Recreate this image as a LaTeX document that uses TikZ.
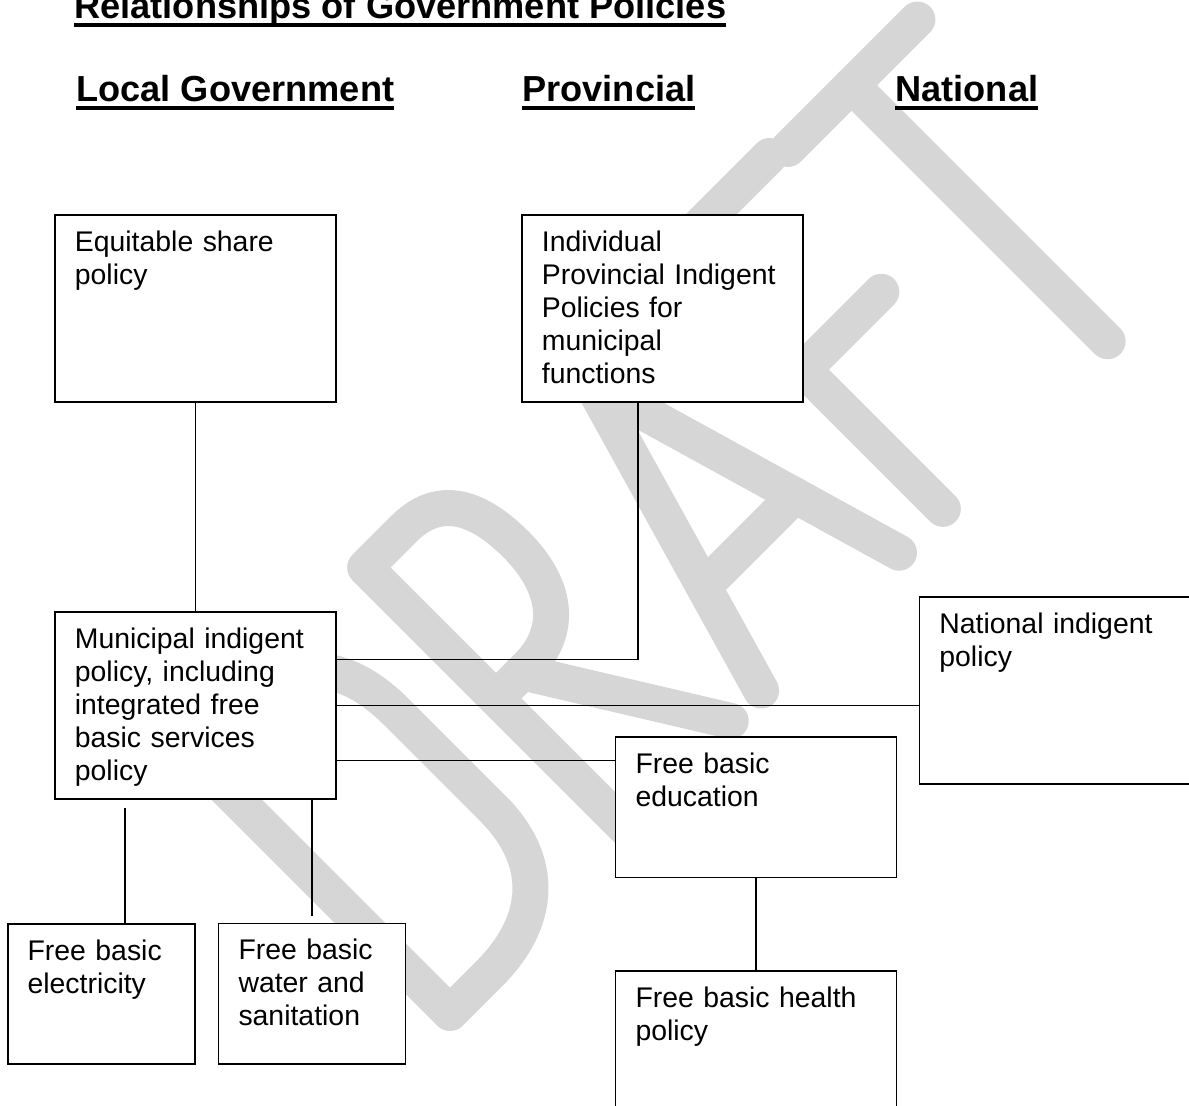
\documentclass[tikz,border=0pt]{standalone}
\usepackage{fontspec}
\setmainfont{Liberation Sans}
\usepackage{tikz}
\usetikzlibrary{calc}
\definecolor{wmgray}{RGB}{214,214,214}
\newcommand{\ulhead}[1]{\setbox0\hbox{#1}\rlap{\rule[-4.2pt]{\wd0}{2pt}}\box0}

\begin{document}
\begin{tikzpicture}[x=0.5pt, y=-0.5pt,
  pbox/.style={rectangle, draw=black, fill=white, line width=0.9pt,
               anchor=north west, align=left, inner xsep=10pt, inner ysep=0pt,
               text height=18.25pt, font=\fontsize{14.2}{16.5}\selectfont},
  head/.style={anchor=base west, inner sep=0pt,
               font=\fontsize{18.1}{21}\selectfont\bfseries},
  conn/.style={draw=black, line width=0.8pt},
  wmark/.style={draw=wmgray, line width=18pt, line cap=round, line join=round}
]
\useasboundingbox (0,0) rectangle (1189,1106);
\clip (0,0) rectangle (1189,1106);

% Watermark
\begin{scope}[shift={(450,1013)}, x={(0.35355pt,0.35355pt)}, y={(-0.35355pt,0.35355pt)}]
  \draw[wmark] (0,0) -- (0,368) -- (55,368) .. controls (135,368) and (175,330) .. (175,250)
     -- (175,115) .. controls (175,40) and (130,0) .. (55,0) -- cycle;
  \draw[wmark] (255,0) -- (255,375) -- (310,375) .. controls (355,375) and (378,345) .. (378,285)
     .. controls (378,220) and (345,190) .. (300,190) -- (255,190);
  \draw[wmark] (292,190) -- (405,8);
  \draw[wmark] (448,8) -- (545,345) -- (643,8);
  \draw[wmark] (483,122) -- (610,122);
  \draw[wmark] (705,8) -- (705,380) -- (832,380);
  \draw[wmark] (705,205) -- (815,205);
  \draw[wmark] (850,372) -- (1033,372);
  \draw[wmark] (940,372) -- (940,10);
\end{scope}

% Headings
\node[head] (title) at (74,19) {\ulhead{Relationships of Government Policies}};
\node[head] (local) at (76,101.7) {\ulhead{Local Government}};
\node[head] (provh) at (522,101.7) {\ulhead{Provincial}};
\node[head] (nath)  at (895,101.7) {\ulhead{National}};

% Policy boxes
\node[pbox, text width=120.5pt, text depth=75.5pt] (eq) at (54,214)
    {Equitable share\\policy};
\node[pbox, text width=120.5pt, text depth=75.5pt] (prov) at (521,214)
    {Individual\\Provincial Indigent\\Policies for\\municipal\\functions};
\node[pbox, text width=120.5pt, text depth=75pt] (muni) at (54,611.5)
    {Municipal indigent\\policy, including\\integrated free\\basic services\\policy};
\node[pbox, text width=120.5pt, text depth=75.25pt] (nat) at (918.5,596)
    {National indigent\\policy};
\node[pbox, text width=120.5pt, text depth=52pt] (edu) at (614.6,736)
    {Free basic\\education};
\node[pbox, text width=120.5pt, text depth=75.25pt] (health) at (614.6,970.4)
    {Free basic health\\policy};
\node[pbox, text width=73.85pt, text depth=51.75pt] (elec) at (6.7,923)
    {Free basic\\electricity};
\node[pbox, text width=73.5pt, text depth=52pt] (water) at (217.6,922.5)
    {Free basic\\water and\\sanitation};

% Connectors
\coordinate (p1) at ([xshift=58.5pt]prov.south west);
\coordinate (m1) at ([yshift=23pt]muni.east);
\coordinate (m2) at ([yshift=-27.4pt]muni.east);
\coordinate (g1) at ([xshift=11.9pt]elec.north);
\draw[conn] (eq.south) -- (muni.north);
\draw[conn] (p1) |- (m1);
\draw[conn] (muni.east) -- (muni.east -| nat.west);
\draw[conn] (m2) -- (m2 -| edu.west);
\draw[conn, shorten >=4pt] (g1) -- (g1 |- muni.south);
\draw[conn, shorten <=3.5pt] (water.north) -- (water.north |- muni.south);
\draw[conn] (edu.south) -- (health.north);

\end{tikzpicture}
\end{document}
